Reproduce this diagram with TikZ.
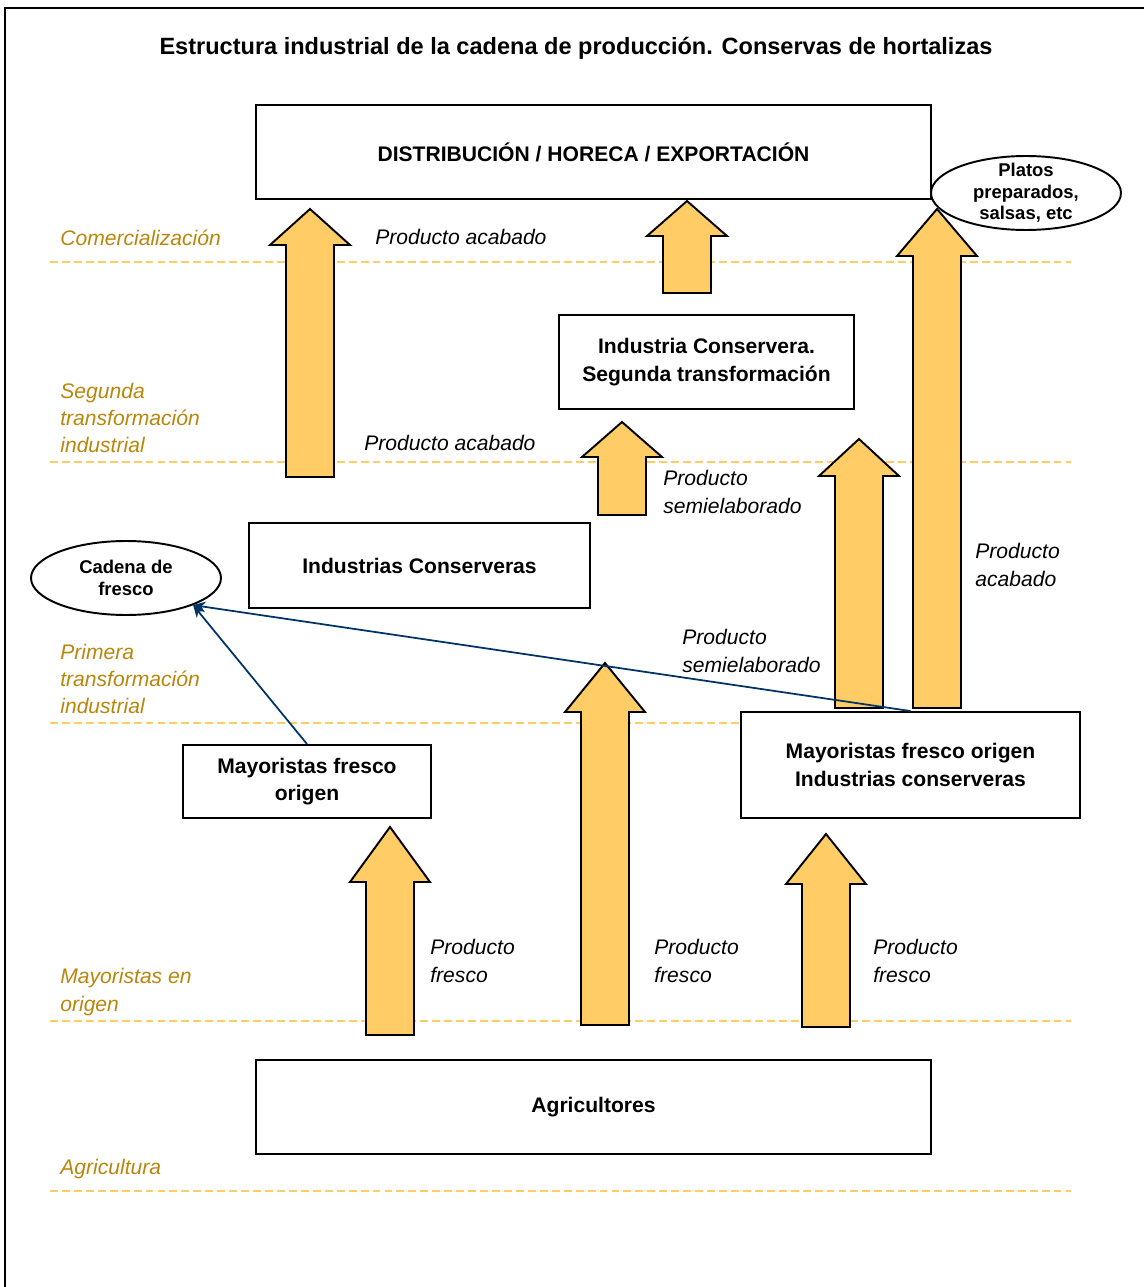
\documentclass[tikz,border=0pt]{standalone}
\usepackage{fontspec}
\setmainfont{Liberation Sans}
\usepackage{tikz}
\usetikzlibrary{arrows.meta,shapes.geometric}
\definecolor{stage_gold}{RGB}{184,134,11}
\definecolor{level_orange}{RGB}{255,204,102}
\definecolor{arrow_fill}{RGB}{255,204,102}
\definecolor{link_blue}{RGB}{0,51,102}

% block arrow: x, bottom, head base, tip
\newcommand{\flowarrow}[4]{%
  \draw[blockarrow] (#1-24,#2) -- (#1-24,#3) -- (#1-40,#3) -- (#1,#4)
    -- (#1+40,#3) -- (#1+24,#3) -- (#1+24,#2) -- cycle;}

\begin{document}
\begin{tikzpicture}[x=0.02cm,y=-0.02cm,>={Stealth[length=7pt,width=6pt]}]
    \tikzstyle{box}=[draw=black, line width=1.1pt, fill=white, rectangle, align=center, font=\fontsize{12}{15.5}\selectfont\bfseries]
    \tikzstyle{oval}=[draw=black, line width=1.1pt, fill=white, ellipse, minimum width=3.8cm, minimum height=1.48cm, inner sep=0pt]
    \tikzstyle{ovaltext}=[align=center, inner sep=0pt, font=\fontsize{10.5}{12.2}\selectfont\bfseries]
    \tikzstyle{stage}=[anchor=west, align=left, inner sep=0pt, text=stage_gold, font=\fontsize{12}{15.5}\selectfont\itshape]
    \tikzstyle{flowlabel}=[anchor=west, align=left, inner sep=0pt, text=black, font=\fontsize{12}{15.5}\selectfont\itshape]
    \tikzstyle{levelline}=[draw=level_orange, line width=1.1pt, dash pattern=on 4.5pt off 2.3pt]
    \tikzstyle{blockarrow}=[draw=black, line width=1.1pt, fill=arrow_fill, line join=miter]
    \tikzstyle{freshlink}=[->, draw=link_blue, line width=1pt]

    \useasboundingbox (0,0) rectangle (1144,1287);
    \draw[line width=1.1pt] (5,1287) -- (5,8) -- (1144,8);

    \node[font=\fontsize{13.4}{16}\selectfont\bfseries] (title) at (576,48) {Estructura industrial de la cadena de producción. Conservas de hortalizas};

    % levels
    \draw[levelline] (50,262) -- (1071,262);
    \draw[levelline] (50,462) -- (1071,462);
    \draw[levelline] (50,723) -- (1071,723);
    \draw[levelline] (50,1021) -- (1071,1021);
    \draw[levelline] (50,1191) -- (1071,1191);

    \node[stage] (lcom) at (60,238) {Comercialización};
    \node[stage] (lseg) at (60,418) {Segunda\\transformación\\industrial};
    \node[stage] (lpri) at (60,679) {Primera\\transformación\\industrial};
    \node[stage] (lmay) at (60,992) {Mayoristas en\\origen};
    \node[stage] (lagr) at (60,1169) {Agricultura};

    % flows
    \flowarrow{310}{477}{245}{209}
    \flowarrow{687}{293}{236}{201}
    \flowarrow{937}{708}{256}{209}
    \flowarrow{622}{515}{457}{422}
    \flowarrow{859}{708}{476}{439}
    \flowarrow{605}{1025}{712}{663}
    \flowarrow{390}{1035}{882}{827}
    \flowarrow{826}{1027}{884}{834}

    % boxes
    \node[box, minimum width=13.5cm, minimum height=1.88cm] (dist) at (593.5,152) {DISTRIBUCIÓN / HORECA / EXPORTACIÓN};
    \node[box, minimum width=5.9cm, minimum height=1.88cm] (ic2) at (706.5,362) {Industria Conservera.\\Segunda transformación};
    \node[box, minimum width=6.82cm, minimum height=1.7cm] (ic1) at (419.5,565.5) {Industrias Conserveras};
    \node[box, minimum width=4.96cm, minimum height=1.46cm] (mfo) at (307,781.5) {Mayoristas fresco\\origen};
    \node[box, minimum width=6.78cm, minimum height=2.12cm] (mic) at (910.5,765) {Mayoristas fresco origen\\Industrias conserveras};
    \node[box, minimum width=13.5cm, minimum height=1.88cm] (agr) at (593.5,1107) {Agricultores};

    \node[oval, label={[ovaltext]center:{Platos\\preparados,\\salsas, etc}}] (platos) at (1026,193) {};
    \node[oval, label={[ovaltext]center:{Cadena de\\fresco}}] (cf) at (126,578) {};

    \node[flowlabel] (pa1) at (375,237) {Producto acabado};
    \node[flowlabel] (pa2) at (364,443) {Producto acabado};
    \node[flowlabel] (ps1) at (663,492) {Producto\\semielaborado};
    \node[flowlabel] (pa3) at (975,565) {Producto\\acabado};
    \node[flowlabel] (ps2) at (682,651) {Producto\\semielaborado};
    \node[flowlabel] (pf1) at (430,961) {Producto\\fresco};
    \node[flowlabel] (pf2) at (654,961) {Producto\\fresco};
    \node[flowlabel] (pf3) at (873,961) {Producto\\fresco};

    \path
     (mfo.north) edge[freshlink] (cf.-22)
     (mic.north) edge[freshlink] (cf.-22)
     ;
\end{tikzpicture}
\end{document}
